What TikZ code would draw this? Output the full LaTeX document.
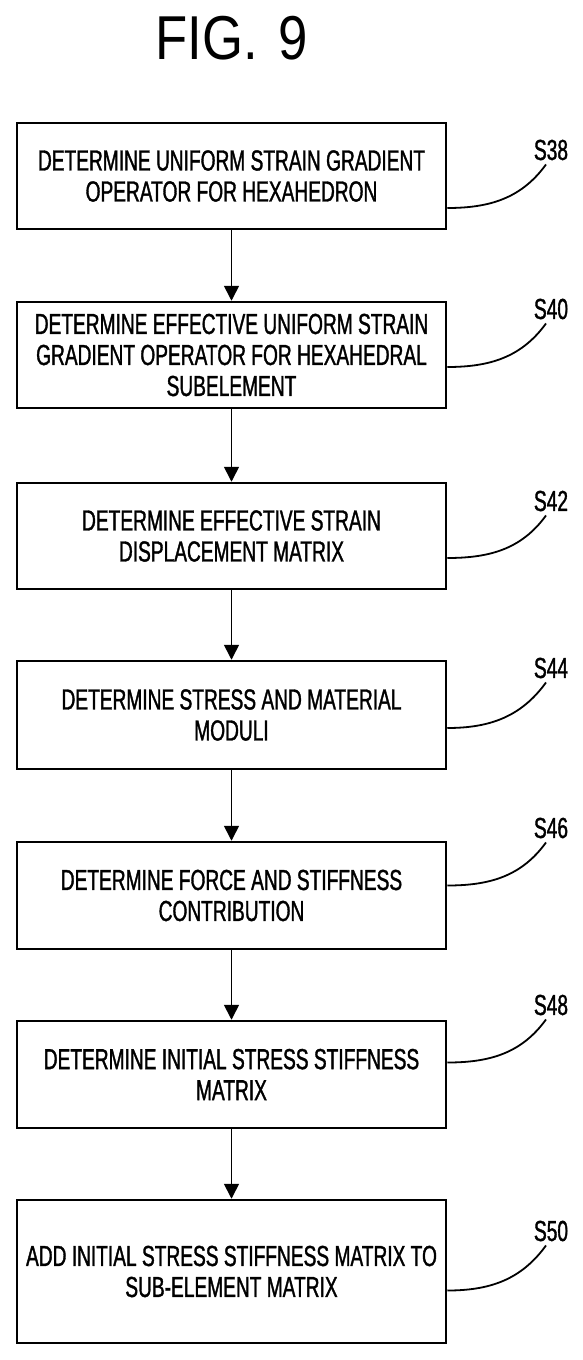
\documentclass[tikz,border=0pt]{standalone}
\usepackage{fontspec}
\setmainfont{Liberation Sans}
\newfontfamily\stepfont[FakeStretch=0.66,FakeBold=1.2]{Liberation Sans}
\newfontfamily\figfont[FakeStretch=0.85]{Liberation Sans}
\usetikzlibrary{arrows.meta}
\tikzset{
stepbox/.style={ % Sets the properties for each process box
draw,
line width=2.5pt,
minimum width=429pt,
minimum height=106pt,
align=center,
font=\stepfont\fontsize{29}{31}\selectfont},
steplabel/.style={ % Step numbers at the right
inner sep=0pt,
font=\stepfont\fontsize{29}{31}\selectfont},
leader/.style={line width=1.8pt}, % Curved lead lines
every edge/.style={ % Sets the properties for each flow arrow
draw,
line width=1.6pt,
-{Triangle[length=15pt,width=15pt]}}}

\begin{document}
\begin{tikzpicture}[x=1pt, y=-1pt]
	\useasboundingbox (0,0) rectangle (583,1360);
	\node[font=\figfont\fontsize{62}{62}\selectfont] (fig) at (232,38) {FIG.\,\,9};
	\node[stepbox] (s38) at (231.5,176) {DETERMINE UNIFORM STRAIN GRADIENT\\OPERATOR FOR HEXAHEDRON};
	\node[stepbox] (s40) at (231.5,355) {DETERMINE EFFECTIVE UNIFORM STRAIN\\GRADIENT OPERATOR FOR HEXAHEDRAL\\SUBELEMENT};
	\node[stepbox] (s42) at (231.5,536) {DETERMINE EFFECTIVE STRAIN\\DISPLACEMENT MATRIX};
	\node[stepbox, minimum height=108pt] (s44) at (231.5,715) {DETERMINE STRESS AND MATERIAL\\MODULI};
	\node[stepbox, minimum height=107pt] (s46) at (231.5,895.5) {DETERMINE FORCE AND STIFFNESS\\CONTRIBUTION};
	\node[stepbox, minimum height=107pt] (s48) at (231.5,1074.5) {DETERMINE INITIAL STRESS STIFFNESS\\MATRIX};
	\node[stepbox, minimum height=143pt] (s50) at (231.5,1271.5) {ADD INITIAL STRESS STIFFNESS MATRIX TO\\SUB-ELEMENT MATRIX};
	% step numbers
	\node[steplabel] (l38) at (551,150) {S38};
	\node[steplabel] (l40) at (551,309) {S40};
	\node[steplabel] (l42) at (551,501) {S42};
	\node[steplabel] (l44) at (551,668) {S44};
	\node[steplabel] (l46) at (551,828) {S46};
	\node[steplabel] (l48) at (551,1005) {S48};
	\node[steplabel] (l50) at (551,1231) {S50};
	% flow
	\draw (s38) edge (s40);
	\draw (s40) edge (s42);
	\draw (s42) edge (s44);
	\draw (s44) edge (s46);
	\draw (s46) edge (s48);
	\draw (s48) edge (s50);
	% lead lines
	\draw[leader] ([yshift=-32pt]s38.east) to[out=0,in=234] ([xshift=-5pt,yshift=-4pt]l38.south);
	\draw[leader] ([yshift=-12pt]s40.east) to[out=0,in=234] ([xshift=-5pt,yshift=-4pt]l40.south);
	\draw[leader] ([yshift=-22pt]s42.east) to[out=0,in=234] ([xshift=-5pt,yshift=-4pt]l42.south);
	\draw[leader] ([yshift=-13pt]s44.east) to[out=0,in=234] ([xshift=-5pt,yshift=-4pt]l44.south);
	\draw[leader] ([yshift=10pt]s46.east) to[out=0,in=234] ([xshift=-5pt,yshift=-4pt]l46.south);
	\draw[leader] ([yshift=12pt]s48.east) to[out=0,in=234] ([xshift=-5pt,yshift=-4pt]l48.south);
	\draw[leader] ([yshift=-19pt]s50.east) to[out=0,in=234] ([xshift=-5pt,yshift=-4pt]l50.south);
\end{tikzpicture}
\end{document}
